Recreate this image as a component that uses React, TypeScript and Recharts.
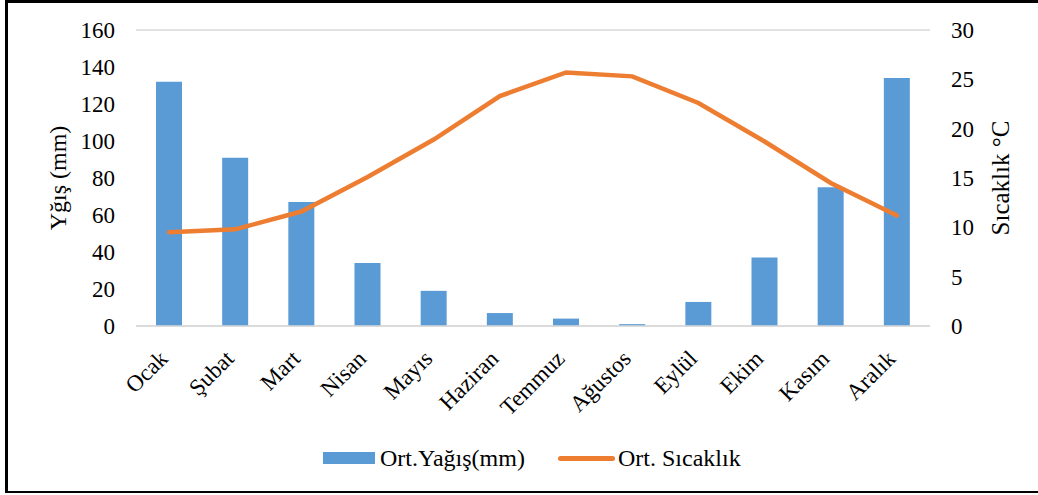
import React from 'react';
import { ComposedChart, Bar, Line, XAxis, YAxis, CartesianGrid, Label } from 'recharts';

const months = ['Ocak', 'Şubat', 'Mart', 'Nisan', 'Mayıs', 'Haziran', 'Temmuz', 'Ağustos', 'Eylül', 'Ekim', 'Kasım', 'Aralık'];
const precipitation = [132, 91, 67, 34, 19, 7, 4, 1, 13, 37, 75, 134];
const temperature = [9.5, 9.8, 11.6, 15.1, 18.9, 23.3, 25.7, 25.3, 22.6, 18.7, 14.5, 11.2];
const leftTicks = [0, 20, 40, 60, 80, 100, 120, 140, 160];
const rightTicks = [0, 5, 10, 15, 20, 25, 30];
const seriesNames = ['Ort.Yağış(mm)', 'Ort. Sıcaklık'];

const data = months.map((m, i) => ({ month: m, rain: precipitation[i], temp: temperature[i] }));

const FONT = 'Liberation Serif';
const BLUE = '#5B9BD5';
const ORANGE = '#ED7D31';

const XTick = (props: any) => {
  const { x, y, payload } = props;
  const tx = x;
  const ty = y + 26;
  return (
    <text x={tx} y={ty} textAnchor="end" transform={`rotate(-45, ${tx}, ${ty})`} fontFamily={FONT} fontSize={23} fill="#000">
      {payload.value}
    </text>
  );
};

const LeftLabel = (props: any) => {
  const vb = props.viewBox;
  const cx = 58;
  const cy = vb.y + vb.height / 2;
  return (
    <text x={cx} y={cy} textAnchor="middle" dominantBaseline="central" transform={`rotate(-90, ${cx}, ${cy})`} fontFamily={FONT} fontSize={24} fill="#000">
      Yğış (mm)
    </text>
  );
};

const RightLabel = (props: any) => {
  const vb = props.viewBox;
  const cx = 1000;
  const cy = vb.y + vb.height / 2;
  return (
    <text x={cx} y={cy} textAnchor="middle" dominantBaseline="central" transform={`rotate(-90, ${cx}, ${cy})`} fontFamily={FONT} fontSize={25} fill="#000">
      Sıcaklık °C
    </text>
  );
};

export default function App() {
  return (
    <div style={{ position: 'fixed', left: 0, top: 0, width: 1038, height: 495, background: '#fff', overflow: 'hidden', fontFamily: FONT }}>
      <ComposedChart width={1038} height={495} data={data} margin={{ top: 30, right: 0, left: 0, bottom: 0 }}>
        <CartesianGrid vertical={false} stroke="#d9d9d9" strokeWidth={1.5} />
        <XAxis
          dataKey="month"
          height={169}
          tick={<XTick />}
          tickLine={false}
          axisLine={{ stroke: '#d9d9d9', strokeWidth: 1.5 }}
          interval={0}
        />
        <YAxis
          yAxisId="left"
          orientation="left"
          width={136}
          domain={[0, 160]}
          ticks={leftTicks}
          tickLine={false}
          axisLine={false}
          tickMargin={15}
          tick={{ fontSize: 23, fill: '#000', fontFamily: FONT }}
        >
          <Label content={<LeftLabel />} />
        </YAxis>
        <YAxis
          yAxisId="right"
          orientation="right"
          width={108}
          domain={[0, 30]}
          ticks={rightTicks}
          tickLine={false}
          axisLine={false}
          tickMargin={15}
          tick={{ fontSize: 23, fill: '#000', fontFamily: FONT }}
        >
          <Label content={<RightLabel />} />
        </YAxis>
        <Bar yAxisId="left" dataKey="rain" name={seriesNames[0]} fill={BLUE} barSize={26} isAnimationActive={false} />
        <Line yAxisId="right" dataKey="temp" name={seriesNames[1]} type="linear" stroke={ORANGE} strokeWidth={4.5} dot={false} strokeLinecap="round" isAnimationActive={false} />
      </ComposedChart>
      <div style={{ position: 'absolute', left: 323, top: 452, width: 52, height: 12, background: BLUE }} />
      <div style={{ position: 'absolute', left: 380, top: 444, fontSize: 24, lineHeight: '28px', color: '#000', whiteSpace: 'nowrap' }}>{seriesNames[0]}</div>
      <div style={{ position: 'absolute', left: 558, top: 456, width: 57, height: 5, background: ORANGE, borderRadius: 3 }} />
      <div style={{ position: 'absolute', left: 618, top: 444, fontSize: 24, lineHeight: '28px', color: '#000', whiteSpace: 'nowrap' }}>{seriesNames[1]}</div>
      <div style={{ position: 'absolute', left: 5, top: 0, width: 1040, height: 493, boxSizing: 'border-box', borderTop: '3px solid #000', borderLeft: '3px solid #000', borderBottom: '2px solid #000', pointerEvents: 'none' }} />
    </div>
  );
}
